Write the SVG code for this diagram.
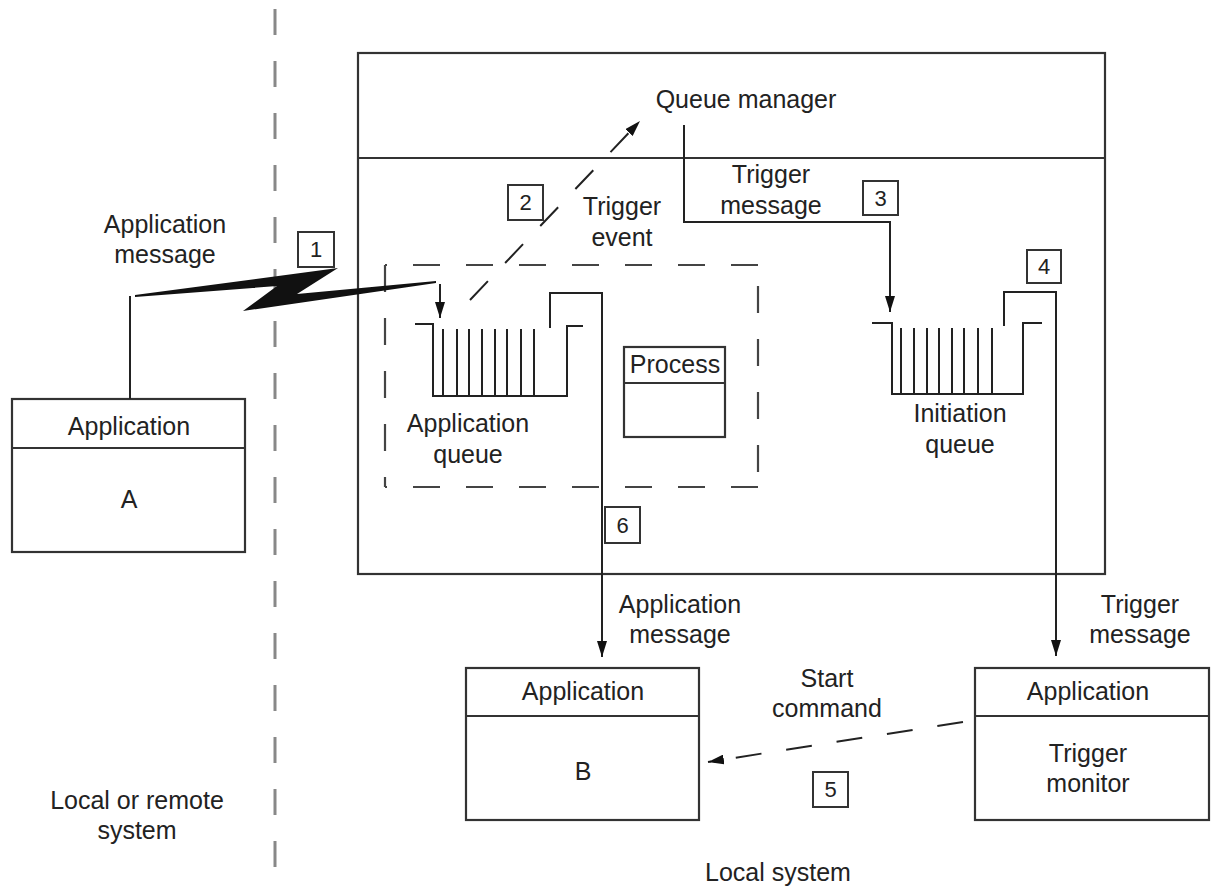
<svg xmlns="http://www.w3.org/2000/svg" width="1211" height="890" viewBox="0 0 1211 890">
<defs>
<style>
.t{font-family:"Liberation Sans",Arial,sans-serif;font-size:25px;fill:#222;text-anchor:middle}
.n{font-family:"Liberation Sans",Arial,sans-serif;font-size:22px;fill:#222;text-anchor:middle}
.ln{fill:none;stroke:#222;stroke-width:2}
.bx{fill:#fff;stroke:#333;stroke-width:2.2}
.nb{fill:#fff;stroke:#333;stroke-width:2}
.dsh{fill:none;stroke:#444;stroke-width:2.2;stroke-dasharray:27 26}
.q{fill:none;stroke:#222;stroke-width:2}
</style>
<marker id="arr" viewBox="0 0 16 10" refX="16" refY="5" markerWidth="16" markerHeight="10" markerUnits="userSpaceOnUse" orient="auto">
<path d="M0,0 L16,5 L0,10 z" fill="#111"/>
</marker>
</defs>
<rect width="1211" height="890" fill="#fff"/>

<!-- boundary dashed line -->
<line x1="275" y1="9" x2="275" y2="890" stroke="#888" stroke-width="3" stroke-dasharray="26 26"/>

<!-- queue manager box -->
<g id="queue-manager">
<rect x="358" y="53" width="747" height="521" class="bx"/>
<line x1="358" y1="158" x2="1105" y2="158" stroke="#333" stroke-width="2.2"/>
<text x="746" y="108" class="t">Queue manager</text>
</g>

<!-- process dashed boundary -->
<g id="process-boundary">
<line x1="385" y1="265" x2="385" y2="487" class="dsh"/>
<line x1="385" y1="265" x2="758" y2="265" class="dsh" stroke-dashoffset="25"/>
<line x1="758" y1="265" x2="758" y2="487" class="dsh" stroke-dashoffset="32"/>
<line x1="758" y1="487" x2="385" y2="487" class="dsh"/>
</g>

<!-- application queue -->
<g id="application-queue">
<path class="q" d="M415,324 H433 V396 H567 V326 H583"/>
<path class="q" d="M443,329 V396 M457,329 V396 M469,329 V396 M482,329 V396 M495,329 V396 M507,329 V396 M521,329 V396 M534,329 V396"/>
<text x="468" y="432" class="t">Application</text>
<text x="468" y="463" class="t">queue</text>
</g>

<!-- process -->
<g id="process">
<rect x="624" y="347" width="101" height="90" class="bx"/>
<line x1="624" y1="383" x2="725" y2="383" stroke="#333" stroke-width="2.2"/>
<text x="675" y="373" class="t">Process</text>
</g>

<!-- initiation queue -->
<g id="initiation-queue">
<path class="q" d="M872,323 H892 V394 H1023 V323 H1042"/>
<path class="q" d="M901,328 V394 M914,328 V394 M927,328 V394 M939,328 V394 M952,328 V394 M964,328 V394 M978,328 V394 M992,328 V394"/>
<text x="960" y="422" class="t">Initiation</text>
<text x="960" y="453" class="t">queue</text>
</g>

<!-- application A -->
<g id="app-a">
<rect x="12" y="399" width="233" height="153" class="bx"/>
<line x1="12" y1="448" x2="245" y2="448" stroke="#333" stroke-width="2.2"/>
<text x="129" y="435" class="t">Application</text>
<text x="129" y="508" class="t">A</text>
</g>

<!-- application B -->
<g id="app-b">
<rect x="466" y="668" width="233" height="152" class="bx"/>
<line x1="466" y1="716" x2="699" y2="716" stroke="#333" stroke-width="2.2"/>
<text x="583" y="700" class="t">Application</text>
<text x="583" y="780" class="t">B</text>
</g>

<!-- trigger monitor -->
<g id="trigger-monitor">
<rect x="975" y="668" width="234" height="152" class="bx"/>
<line x1="975" y1="716" x2="1209" y2="716" stroke="#333" stroke-width="2.2"/>
<text x="1088" y="700" class="t">Application</text>
<text x="1088" y="762" class="t">Trigger</text>
<text x="1088" y="792" class="t">monitor</text>
</g>

<!-- connectors -->
<g id="connectors">
<path class="ln" d="M130,399 V296"/>
<polygon points="135,295 338,268 297,294 436,281 436,283 243,311 277,286 135,297" fill="#111"/>
<path class="ln" d="M440,284 V318" marker-end="url(#arr)"/>
<path class="ln" d="M470,300 L640,121" stroke-dasharray="26 25" marker-end="url(#arr)"/>
<path class="ln" d="M684,125 V222 H890 V312" marker-end="url(#arr)"/>
<path class="ln" d="M550,328 V293 H602 V657" marker-end="url(#arr)"/>
<path class="ln" d="M1004,326 V292 H1056 V656" marker-end="url(#arr)"/>
<path class="ln" d="M963,722 L708,762" stroke-dasharray="26 25" marker-end="url(#arr)"/>
</g>

<!-- labels -->
<g id="labels">
<text x="165" y="233" class="t">Application</text>
<text x="165" y="263" class="t">message</text>
<text x="622" y="215" class="t">Trigger</text>
<text x="622" y="246" class="t">event</text>
<text x="771" y="183" class="t">Trigger</text>
<text x="771" y="214" class="t">message</text>
<text x="680" y="613" class="t">Application</text>
<text x="680" y="643" class="t">message</text>
<text x="1140" y="613" class="t">Trigger</text>
<text x="1140" y="643" class="t">message</text>
<text x="827" y="687" class="t">Start</text>
<text x="827" y="717" class="t">command</text>
<text x="137" y="809" class="t">Local or remote</text>
<text x="137" y="839" class="t">system</text>
<text x="778" y="881" class="t">Local system</text>
</g>

<!-- step numbers -->
<g id="steps">
<rect x="298" y="232" width="36" height="35" class="nb"/><text x="316" y="257" class="n">1</text>
<rect x="508" y="185" width="35" height="35" class="nb"/><text x="525.5" y="210" class="n">2</text>
<rect x="863" y="181" width="35" height="34" class="nb"/><text x="880.5" y="206" class="n">3</text>
<rect x="1027" y="250" width="34" height="33" class="nb"/><text x="1044" y="274" class="n">4</text>
<rect x="813" y="772" width="35" height="35" class="nb"/><text x="830.5" y="797" class="n">5</text>
<rect x="605" y="507" width="35" height="36" class="nb"/><text x="622.5" y="533" class="n">6</text>
</g>
</svg>
